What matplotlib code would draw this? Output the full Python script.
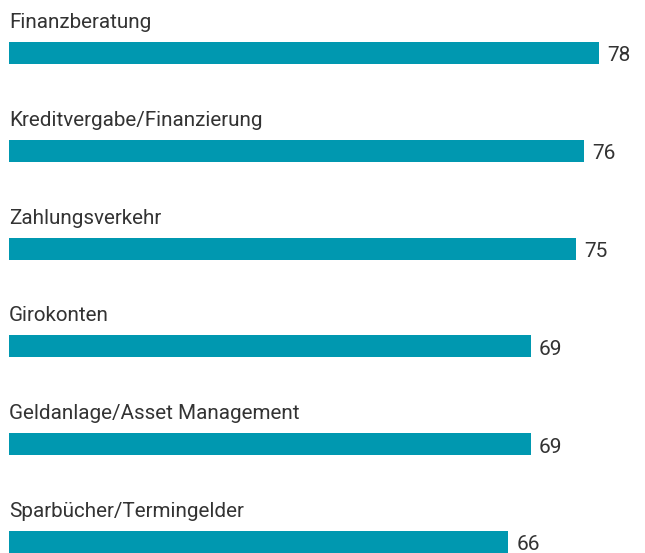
import matplotlib
matplotlib.use("Agg")
import matplotlib.pyplot as plt

categories = ["Finanzberatung", "Kreditvergabe/Finanzierung", "Zahlungsverkehr",
              "Girokonten", "Geldanlage/Asset Management", "Sparbücher/Termingelder"]
values = [78, 76, 75, 69, 69, 66]

bar_color = "#0098B0"
text_color = "#333333"

fig = plt.figure(figsize=(6.45, 5.53), dpi=100)
ax = fig.add_axes([0, 0, 1, 1])
ax.set_xlim(-1.19, 84.08)
ax.set_ylim(5.112, -0.542)
ax.axis("off")

pos = list(range(len(categories)))
ax.barh(pos, values, height=0.225, left=0, color=bar_color)
for i, (c, v) in enumerate(zip(categories, values)):
    ax.text(0, i - 0.256, c, ha="left", va="baseline", fontsize=14.9,
            color=text_color, family="Roboto")
    ax.text(v + 1.06, i + 0.085, str(v), ha="left", va="baseline", fontsize=15,
            color=text_color, family="Roboto")

fig.savefig("out.png", dpi=100)
